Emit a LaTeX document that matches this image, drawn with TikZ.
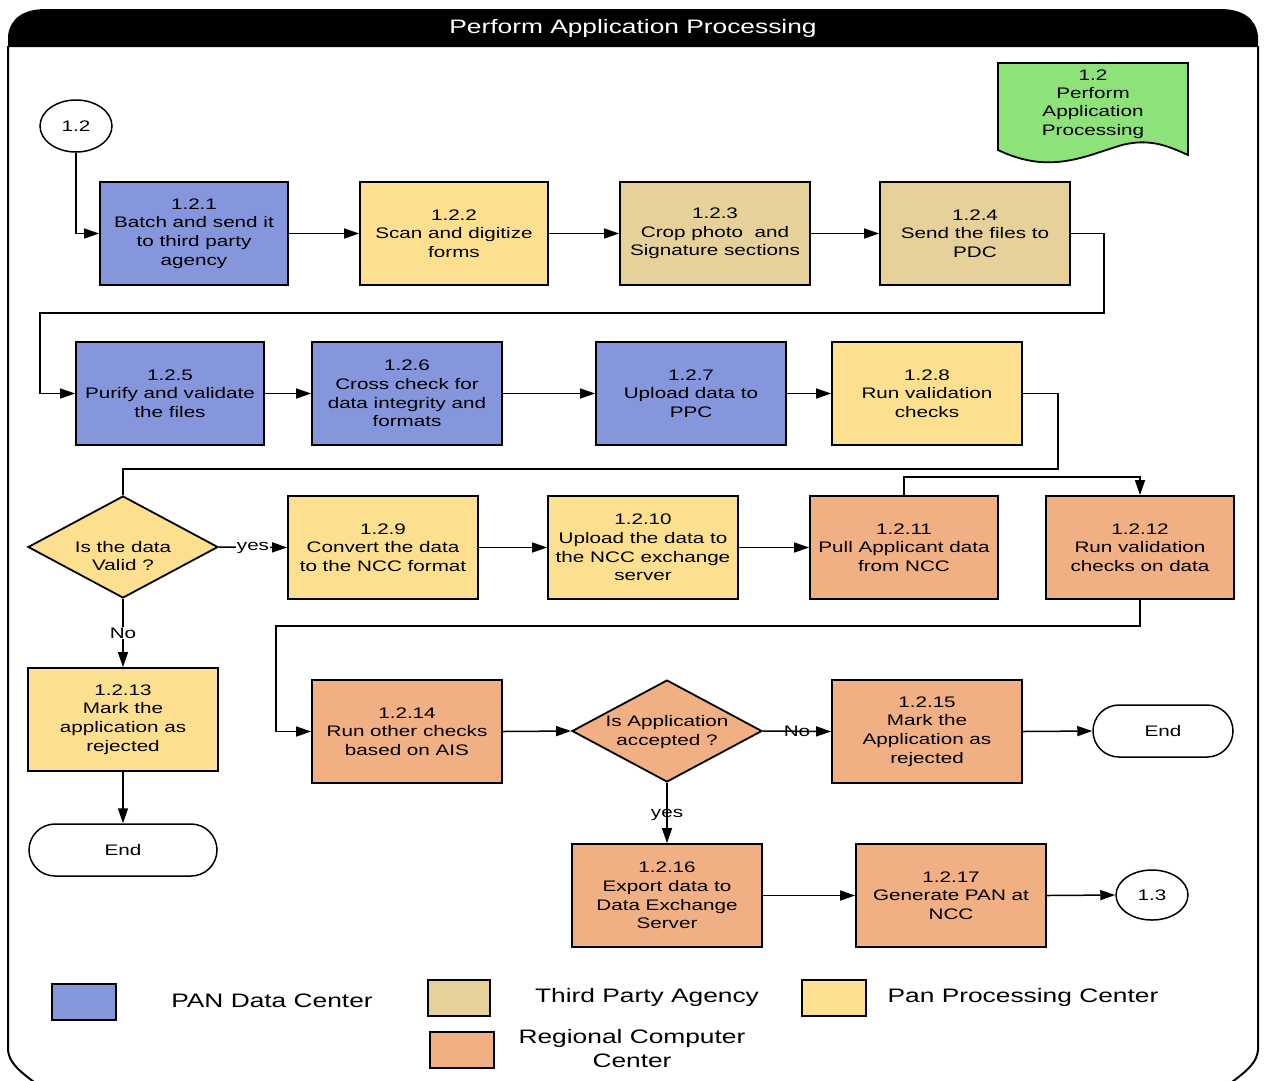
\documentclass[tikz,border=0pt]{standalone}
\usepackage{fontspec}
\setmainfont{Liberation Sans}[FakeStretch=1.35]
\usetikzlibrary{shapes.geometric,shapes.misc,arrows.meta}
\definecolor{cblue}{RGB}{134,150,220}
\definecolor{cyel}{RGB}{253,224,143}
\definecolor{ctan}{RGB}{230,209,155}
\definecolor{corg}{RGB}{240,176,132}
\definecolor{cgrn}{RGB}{142,226,122}
\tikzset{
  box/.style={draw=black,line width=1.8pt,rectangle,minimum width=190pt,minimum height=103pt,inner sep=1pt,align=center,font=\fontsize{15.3}{18.6}\selectfont},
  dia/.style={draw=black,line width=1.8pt,diamond,minimum width=190pt,minimum height=102pt,inner sep=0pt},
  term/.style={draw=black,line width=1.5pt,rounded rectangle,minimum height=52pt,inner sep=1pt,font=\fontsize{15.3}{18}\selectfont},
  conn/.style={draw=black,line width=1.5pt,ellipse,minimum width=72pt,minimum height=52pt,inner sep=0pt,font=\fontsize{15.3}{18}\selectfont},
  txt/.style={align=center,font=\fontsize{15.3}{18.4}\selectfont,inner sep=0pt},
  lgtxt/.style={align=center,font=\fontsize{19.5}{24}\selectfont,inner sep=0pt},
  lgbox/.style={draw=black,line width=1.8pt},
  arr/.style={line width=1.5pt,-{Triangle[length=15pt,width=10pt]}},
  ln/.style={line width=1.5pt},
  lab/.style={font=\fontsize{15.3}{18}\selectfont,inner sep=1pt}
}
\begin{document}
\begin{tikzpicture}[x=1pt,y=-1pt]
\useasboundingbox (0,0) rectangle (1265,1080);
% frame
\fill[black] (8,47) -- (8,36) .. controls (10,18) and (24,9) .. (46,9) -- (1220,9) .. controls (1242,9) and (1256,18) .. (1258,36) -- (1258,47) -- cycle;
\node[lgtxt,text=white] (title) at (633,28) {Perform Application Processing};
\draw[line width=2pt] (8,46) -- (8,1050) .. controls (9,1062) and (18,1070) .. (34,1082);
\draw[line width=2pt] (1258,46) -- (1258,1050) .. controls (1257,1062) and (1248,1070) .. (1232,1082);
% green document
\fill[cgrn,draw=black,line width=1.8pt] (998,63) -- (1188,63) -- (1188,155) .. controls (1168,146) and (1150,138) .. (1122,145) .. controls (1085,156) and (1050,175) .. (998,150) -- cycle;
\node[txt] (doc) at (1093,104) {1.2\\Perform\\Application\\Processing};
% nodes
\node[conn] (c12) at (76,126) {1.2};
\node[box,fill=cblue,minimum width=188pt] (n1) at (194,233.5) {1.2.1\\Batch and send it\\to third party\\agency};
\node[box,fill=cyel,minimum width=188pt] (n2) at (454,233.5) {1.2.2\\Scan and digitize\\forms};
\node[box,fill=ctan] (n3) at (715,233.5) {1.2.3\\Crop photo\ \ and\\Signature sections};
\node[box,fill=ctan] (n4) at (975,233.5) {1.2.4\\Send the files to\\PDC};
\node[box,fill=cblue,minimum width=188pt] (n5) at (170,393.5) {1.2.5\\Purify and validate\\the files};
\node[box,fill=cblue] (n6) at (407,393.5) {1.2.6\\Cross check for\\data integrity and\\formats};
\node[box,fill=cblue] (n7) at (691,393.5) {1.2.7\\Upload data to\\PPC};
\node[box,fill=cyel] (n8) at (927,393.5) {1.2.8\\Run validation\\checks};
\node[dia,fill=cyel] (d1) at (123,547) {};
\node[txt] (d1t) at (123,556) {Is the data\\Valid ?};
\node[box,fill=cyel] (n9) at (383,547.5) {1.2.9\\Convert the data\\to the NCC format};
\node[box,fill=cyel] (n10) at (643,547.5) {1.2.10\\Upload the data to\\the NCC exchange\\server};
\node[box,fill=corg,minimum width=188pt] (n11) at (904,547.5) {1.2.11\\Pull Applicant data\\from NCC};
\node[box,fill=corg,minimum width=188pt] (n12) at (1140,547.5) {1.2.12\\Run validation\\checks on data};
\node[box,fill=cyel] (n13) at (123,719.5) {1.2.13\\Mark the\\application as\\rejected};
\node[term,minimum width=190pt] (e1) at (123,850) {End};
\node[box,fill=corg] (n14) at (407,731.5) {1.2.14\\Run other checks\\based on AIS};
\node[dia,fill=corg] (d2) at (667,731) {};
\node[txt] (d2t) at (667,732) {Is Application\\accepted ?};
\node[box,fill=corg] (n15) at (927,731.5) {1.2.15\\Mark the\\Application as\\rejected};
\node[term,minimum width=142pt] (e2) at (1163,731) {End};
\node[box,fill=corg] (n16) at (667,895.5) {1.2.16\\Export data to\\Data Exchange\\Server};
\node[box,fill=corg] (n17) at (951,895.5) {1.2.17\\Generate PAN at\\NCC};
\node[conn,minimum height=50pt] (c13) at (1152,895) {1.3};
% bend coordinates
\coordinate (b1) at (1104,313);
\coordinate (b2) at (40,313);
\coordinate (b3) at (1058,469);
\coordinate (b4) at (123,469);
\coordinate (b5) at (276,626);
% connectors
\draw[arr] (c12.south) |- (n1.west);
\draw[arr] (n1.east) -- (n2.west);
\draw[arr] (n2.east) -- (n3.west);
\draw[arr] (n3.east) -- (n4.west);
\draw[arr] (n4.east) -| (b1) -- (b2) |- (n5.west);
\draw[arr] (n5.east) -- (n6.west);
\draw[arr] (n6.east) -- (n7.west);
\draw[arr] (n7.east) -- (n8.west);
\draw[ln] (n8.east) -| (b3) -- (b4) -- (d1.north);
\draw[arr] (d1.east) -- node[lab,fill=white,yshift=-1pt] (ly1) {yes} (n9.west);
\draw[arr] (n9.east) -- (n10.west);
\draw[arr] (n10.east) -- (n11.west);
\draw[arr] (n11.north) -- ++(0,-18) -| (n12.north);
\draw[arr] (d1.south) -- node[lab,fill=white] (ln1) {No} (n13.north);
\draw[arr] (n13.south) -- (e1.north);
\draw[arr] (n12.south) |- (b5) |- (n14.west);
\draw[arr] (n14.east) -- (d2.west);
\draw[arr] (d2.east) -- node[lab] (ln2) {No} (n15.west);
\draw[arr] (n15.east) -- (e2.west);
\draw[arr] (d2.south) -- node[lab,yshift=-2pt] (ly2) {yes} (n16.north);
\draw[arr] (n16.east) -- (n17.west);
\draw[arr] (n17.east) -- (c13.west);
% legend
\draw[lgbox,fill=cblue] (52,984) rectangle (116,1020);
\node[lgtxt] (lg1) at (272,1001) {PAN Data Center};
\draw[lgbox,fill=ctan] (428,980) rectangle (490,1016);
\node[lgtxt] (lg2) at (647,997) {Third Party Agency};
\draw[lgbox,fill=cyel] (802,980) rectangle (866,1016);
\node[lgtxt] (lg3) at (1023,997) {Pan Processing Center};
\draw[lgbox,fill=corg] (430,1032) rectangle (494,1068);
\node[lgtxt] (lg4) at (632,1049) {Regional Computer\\Center};
\end{tikzpicture}
\end{document}
